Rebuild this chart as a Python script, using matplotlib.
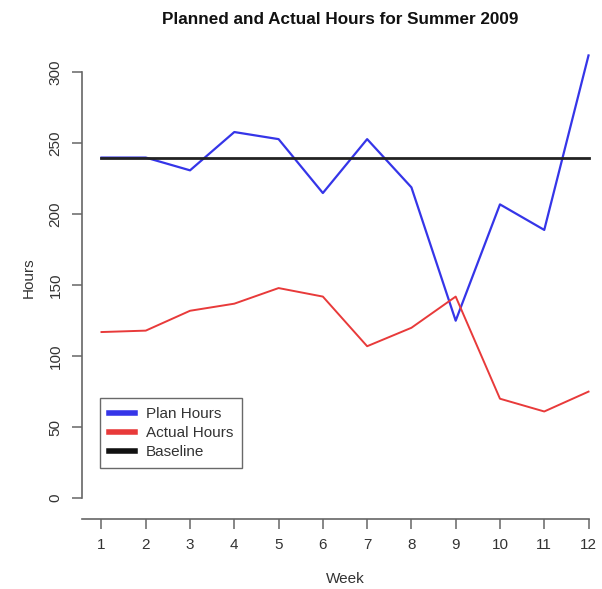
import matplotlib.pyplot as plt
from matplotlib.lines import Line2D

plt.rcParams['font.family'] = ['Liberation Sans', 'DejaVu Sans']

weeks = list(range(1, 13))
plan_hours = [240, 240, 231, 258, 253, 215, 253, 219, 125, 207, 189, 312]
actual_hours = [117, 118, 132, 137, 148, 142, 107, 120, 142, 70, 61, 75]
baseline = [240] * 12

fig = plt.figure(figsize=(6.02, 5.89), dpi=100)
# plot region runs slightly past the right edge of the image
ax = fig.add_axes([82 / 602, 70 / 589, 526 / 602, 482 / 589])

ax.plot(weeks, plan_hours, color='#3535e8', lw=1.6)
ax.plot(weeks, actual_hours, color='#e83a3a', lw=1.4)
ax.plot(weeks, baseline, color='#222222', lw=2.0)

ax.set_xlim(0.56, 12.44)
ax.set_ylim(-14.8, 325)

for s in ['top', 'right']:
    ax.spines[s].set_visible(False)
ax.spines['left'].set_bounds(0, 300)
ax.spines['bottom'].set_bounds(0.56, 12)
for s in ['left', 'bottom']:
    ax.spines[s].set_color('#666666')
    ax.spines[s].set_linewidth(1.2)

ax.set_xticks(weeks)
ax.set_yticks(range(0, 301, 50))
ax.tick_params(axis='both', direction='out', length=7, width=1.1,
               color='#666666', labelcolor='#333333', labelsize=11, pad=7)
for lab in ax.get_yticklabels():
    lab.set_rotation(90)
    lab.set_va('center')

ax.set_xlabel('Week', fontsize=11, color='#333333', labelpad=14)
ax.set_ylabel('Hours', fontsize=11, color='#333333', labelpad=9)
fig.text(340 / 602, 1 - 19 / 589, 'Planned and Actual Hours for Summer 2009',
         ha='center', va='center', fontsize=12.3, fontweight='bold', color='#111111')

handles = [Line2D([], [], color='#3535e8', lw=4),
           Line2D([], [], color='#e83a3a', lw=4),
           Line2D([], [], color='#111111', lw=4)]
leg = ax.legend(handles, ['Plan Hours', 'Actual Hours', 'Baseline'],
                loc='upper left', bbox_to_anchor=(0.034, 0.251), fontsize=11,
                frameon=True, fancybox=False, edgecolor='#444444',
                handlelength=1.7, handletextpad=0.7, labelspacing=0.32,
                borderpad=0.6, borderaxespad=0)
leg.get_frame().set_linewidth(1.0)
for t in leg.get_texts():
    t.set_color('#333333')

fig.savefig('out.png', dpi=100)
